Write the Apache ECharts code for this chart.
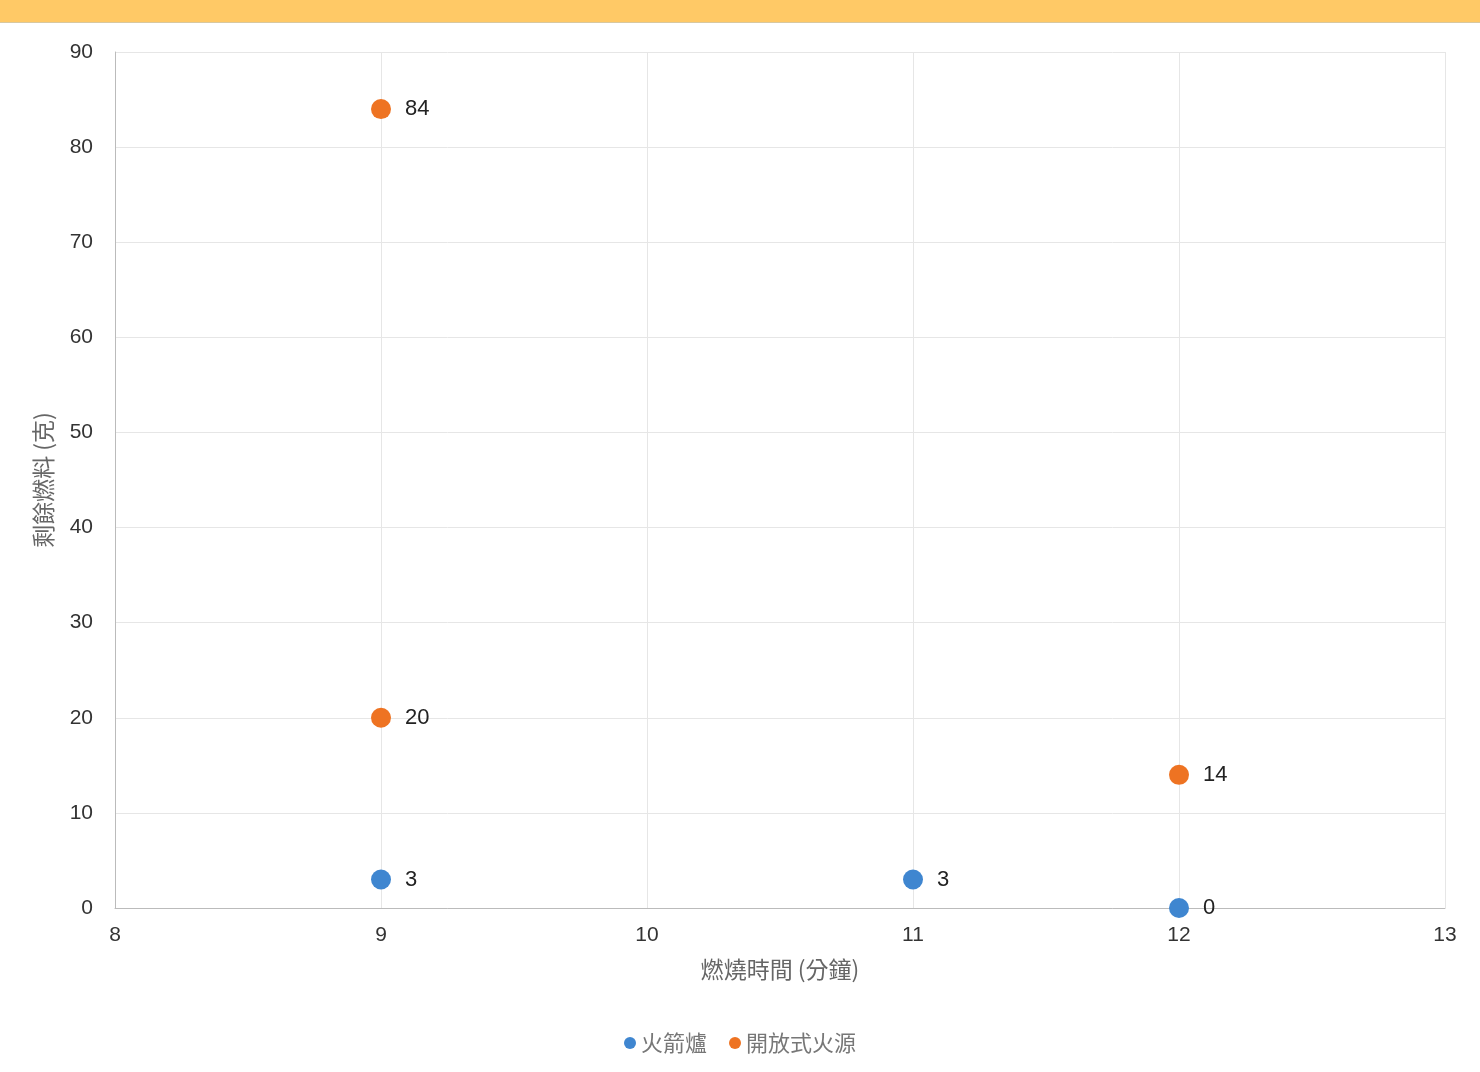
<!DOCTYPE html>
<html><head><meta charset="utf-8">
<style>html,body{margin:0;padding:0;background:#fff;}#bar{height:22px;background:#FFC966;border-bottom:1px solid #d8c8a0;}#c{width:1480px;height:1049px;}</style>
<script src="https://cdn.jsdelivr.net/npm/echarts@6/dist/echarts.min.js"></script>
</head><body><div id="bar"></div><div id="c"></div>
<script>
const seriesNames = ['火箭爐', '開放式火源'];
const rocketX = [9, 11, 12];
const rocketY = [3, 3, 0];
const openX = [9, 9, 12];
const openY = [84, 20, 14];
const xTicks = [8, 9, 10, 11, 12, 13];
const yTicks = [0, 10, 20, 30, 40, 50, 60, 70, 80, 90];

const font = '"Noto Sans CJK TC", "Liberation Sans", sans-serif';
const numFont = '"Liberation Sans", Arial, sans-serif';
const chart = echarts.init(document.getElementById('c'));
const lbl = {show: true, position: 'right', distance: 14, color: '#222', fontSize: 22, fontFamily: numFont, formatter: p => p.value[1]};
chart.setOption({
  animation: false,
  textStyle: {fontFamily: font},
  grid: {left: 115, right: 35, top: 29, bottom: 164},
  legend: {bottom: 13, left: 'center', itemWidth: 12, itemHeight: 12, itemGap: 22,
    icon: 'circle', textStyle: {color: '#777', fontSize: 22, fontFamily: font},
    data: seriesNames},
  xAxis: {type: 'value', min: xTicks[0], max: xTicks[xTicks.length-1], interval: 1,
    name: '燃燒時間 (分鐘)', nameLocation: 'middle', nameGap: 50,
    nameTextStyle: {color: '#666', fontSize: 23, fontFamily: font},
    axisLine: {lineStyle: {color: '#bbb'}}, axisTick: {show: false},
    axisLabel: {color: '#333', fontSize: 21, margin: 17, fontFamily: numFont},
    splitLine: {lineStyle: {color: '#e6e6e6'}}},
  yAxis: {type: 'value', min: yTicks[0], max: yTicks[yTicks.length-1], interval: 10,
    name: '剩餘燃料 (克)', nameLocation: 'middle', nameGap: 60,
    nameTextStyle: {color: '#666', fontSize: 23, fontFamily: font},
    axisLine: {show: true, lineStyle: {color: '#bbb'}}, axisTick: {show: false},
    axisLabel: {color: '#333', fontSize: 21, margin: 22, fontFamily: numFont},
    splitLine: {lineStyle: {color: '#e6e6e6'}}},
  series: [
    {name: seriesNames[0], type: 'scatter', symbolSize: 20, itemStyle: {color: '#3F86D0', opacity: 1},
     label: lbl, data: rocketX.map((x, i) => [x, rocketY[i]])},
    {name: seriesNames[1], type: 'scatter', symbolSize: 20, itemStyle: {color: '#EE7322', opacity: 1},
     label: lbl, data: openX.map((x, i) => [x, openY[i]])}
  ]
});
</script></body></html>
